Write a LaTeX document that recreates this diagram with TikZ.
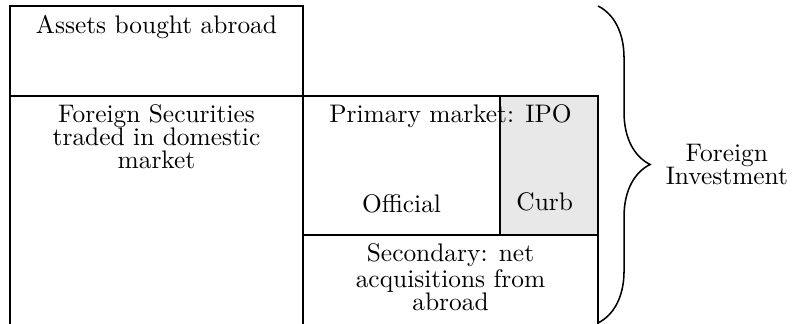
\documentclass[tikz,border=0pt]{standalone}
\usetikzlibrary{positioning}
\usetikzlibrary{decorations.pathreplacing}
\tikzstyle{cell} = [rectangle, draw=black, line width=0.6pt, inner sep=0pt, outer sep=0pt]
\tikzstyle{shaded} = [cell, fill=gray!18]
\tikzstyle{boxtext} = [align=flush center, font=\fontsize{10}{9}\selectfont, node distance=0]
\tikzstyle{wrapped} = [boxtext, text width=3.3cm]

\begin{document}
\begin{tikzpicture}
  \useasboundingbox (0,0) rectangle (11.056,4.483);
  \clip (0,0) rectangle (11.056,4.483);

  % boxes
  \node[cell, minimum width=4.055cm, minimum height=1.245cm, anchor=north west] (assets) at (0.138,4.4) {};
  \node[cell, minimum width=4.055cm, minimum height=3.6cm, below=0cm of assets] (securities) {};
  \node[cell, minimum width=4.082cm, minimum height=1.923cm, below right=0cm and 0cm of assets.south east] (primary) {};
  \node[shaded, minimum width=1.356cm, minimum height=1.923cm, below left=0cm and 0cm of primary.north east] (curb) {};
  \node[cell, minimum width=4.082cm, minimum height=1.8cm, below=0cm of primary] (secondary) {};

  % texts
  \node[boxtext, below=0cm of assets.north] (tassets) {Assets bought abroad};
  \node[wrapped, below=0cm of securities.north] (tsecurities) {Foreign Securities traded in domestic market};
  \node[boxtext, below=0cm of primary.north] (tprimary) {Primary market: IPO};
  \node[boxtext, anchor=base] (tofficial) at (5.556,1.54) {Official};
  \node[boxtext, anchor=base] (tcurb) at (7.537,1.577) {Curb};
  \node[wrapped, below=0cm of secondary.north] (tsecondary) {Secondary: net acquisitions from abroad};

  % brace
  \coordinate (btop) at (8.275,4.4);
  \coordinate (bbot) at (8.275,0.014);
  \draw[line width=0.6pt, decorate, decoration={brace, amplitude=0.72cm}] (btop) -- (bbot)
    node[boxtext, midway, right=0.81cm] (tinvest) {Foreign\\Investment};
\end{tikzpicture}
\end{document}
